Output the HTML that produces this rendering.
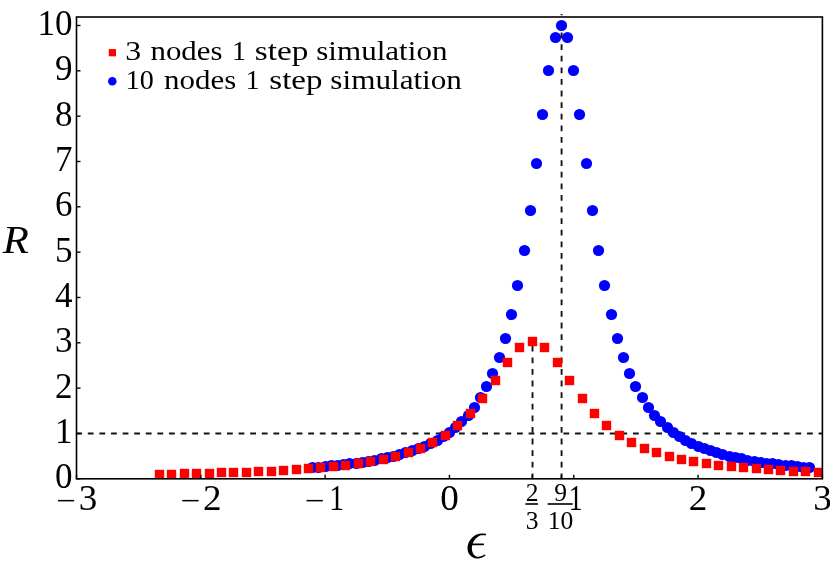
<!DOCTYPE html>
<html><head><meta charset="utf-8"><title>R vs epsilon</title>
<style>html,body{margin:0;padding:0;background:#fff;}body{width:830px;height:562px;overflow:hidden;}svg{display:block;will-change:transform;}text{font-family:"Liberation Serif",serif;fill:#000;}</style>
</head><body>
<svg width="830" height="562" viewBox="0 0 830 562">
<rect x="0" y="0" width="830" height="562" fill="#ffffff"/>
<g stroke="#141414" stroke-width="1.90" stroke-dasharray="5.8 5.8" fill="none">
<line x1="76.20" y1="433.47" x2="822.40" y2="433.47"/>
<line x1="532.53" y1="479.20" x2="532.53" y2="342.81"/>
<line x1="561.59" y1="479.20" x2="561.59" y2="14.00"/>
</g>
<g fill="#0000ff">
<circle cx="312.50" cy="467.50" r="5.60"/>
<circle cx="318.50" cy="467.50" r="5.60"/>
<circle cx="325.50" cy="466.50" r="5.60"/>
<circle cx="331.50" cy="465.50" r="5.60"/>
<circle cx="337.50" cy="465.50" r="5.60"/>
<circle cx="343.50" cy="464.50" r="5.60"/>
<circle cx="349.50" cy="463.50" r="5.60"/>
<circle cx="356.50" cy="463.50" r="5.60"/>
<circle cx="362.50" cy="462.50" r="5.60"/>
<circle cx="368.50" cy="461.50" r="5.60"/>
<circle cx="374.50" cy="460.50" r="5.60"/>
<circle cx="381.50" cy="458.50" r="5.60"/>
<circle cx="387.50" cy="457.50" r="5.60"/>
<circle cx="393.50" cy="456.50" r="5.60"/>
<circle cx="399.50" cy="454.50" r="5.60"/>
<circle cx="405.50" cy="452.50" r="5.60"/>
<circle cx="412.50" cy="450.50" r="5.60"/>
<circle cx="418.50" cy="448.50" r="5.60"/>
<circle cx="424.50" cy="446.50" r="5.60"/>
<circle cx="430.50" cy="443.50" r="5.60"/>
<circle cx="437.50" cy="440.50" r="5.60"/>
<circle cx="443.50" cy="436.50" r="5.60"/>
<circle cx="449.50" cy="432.50" r="5.60"/>
<circle cx="455.50" cy="427.50" r="5.60"/>
<circle cx="461.50" cy="421.50" r="5.60"/>
<circle cx="468.50" cy="415.50" r="5.60"/>
<circle cx="474.50" cy="407.50" r="5.60"/>
<circle cx="480.50" cy="397.50" r="5.60"/>
<circle cx="486.50" cy="386.50" r="5.60"/>
<circle cx="492.50" cy="373.50" r="5.60"/>
<circle cx="499.50" cy="357.50" r="5.60"/>
<circle cx="505.50" cy="338.50" r="5.60"/>
<circle cx="511.50" cy="314.50" r="5.60"/>
<circle cx="517.50" cy="285.50" r="5.60"/>
<circle cx="524.50" cy="250.50" r="5.60"/>
<circle cx="530.50" cy="210.50" r="5.60"/>
<circle cx="536.50" cy="163.50" r="5.60"/>
<circle cx="542.50" cy="114.50" r="5.60"/>
<circle cx="548.50" cy="70.50" r="5.60"/>
<circle cx="555.50" cy="37.50" r="5.60"/>
<circle cx="561.50" cy="25.50" r="5.60"/>
<circle cx="567.50" cy="37.50" r="5.60"/>
<circle cx="573.50" cy="70.50" r="5.60"/>
<circle cx="579.50" cy="114.50" r="5.60"/>
<circle cx="586.50" cy="163.50" r="5.60"/>
<circle cx="592.50" cy="210.50" r="5.60"/>
<circle cx="598.50" cy="250.50" r="5.60"/>
<circle cx="604.50" cy="285.50" r="5.60"/>
<circle cx="611.50" cy="314.50" r="5.60"/>
<circle cx="617.50" cy="338.50" r="5.60"/>
<circle cx="623.50" cy="357.50" r="5.60"/>
<circle cx="629.50" cy="373.50" r="5.60"/>
<circle cx="635.50" cy="386.50" r="5.60"/>
<circle cx="642.50" cy="397.50" r="5.60"/>
<circle cx="648.50" cy="407.50" r="5.60"/>
<circle cx="654.50" cy="415.50" r="5.60"/>
<circle cx="660.50" cy="421.50" r="5.60"/>
<circle cx="667.50" cy="427.50" r="5.60"/>
<circle cx="673.50" cy="432.50" r="5.60"/>
<circle cx="679.50" cy="436.50" r="5.60"/>
<circle cx="685.50" cy="440.50" r="5.60"/>
<circle cx="691.50" cy="443.50" r="5.60"/>
<circle cx="698.50" cy="446.50" r="5.60"/>
<circle cx="704.50" cy="448.50" r="5.60"/>
<circle cx="710.50" cy="450.50" r="5.60"/>
<circle cx="716.50" cy="452.50" r="5.60"/>
<circle cx="722.50" cy="454.50" r="5.60"/>
<circle cx="729.50" cy="456.50" r="5.60"/>
<circle cx="735.50" cy="457.50" r="5.60"/>
<circle cx="741.50" cy="458.50" r="5.60"/>
<circle cx="747.50" cy="460.50" r="5.60"/>
<circle cx="754.50" cy="461.50" r="5.60"/>
<circle cx="760.50" cy="462.50" r="5.60"/>
<circle cx="766.50" cy="463.50" r="5.60"/>
<circle cx="772.50" cy="463.50" r="5.60"/>
<circle cx="778.50" cy="464.50" r="5.60"/>
<circle cx="785.50" cy="465.50" r="5.60"/>
<circle cx="791.50" cy="465.50" r="5.60"/>
<circle cx="797.50" cy="466.50" r="5.60"/>
<circle cx="803.50" cy="467.50" r="5.60"/>
<circle cx="809.50" cy="467.50" r="5.60"/>
</g>
<clipPath id="c"><rect x="0" y="0" width="821.90" height="479.20"/></clipPath>
<g fill="#ff0000" clip-path="url(#c)">
<rect x="154.80" y="469.80" width="9.40" height="9.40"/>
<rect x="166.80" y="469.80" width="9.40" height="9.40"/>
<rect x="179.80" y="468.80" width="9.40" height="9.40"/>
<rect x="191.80" y="468.80" width="9.40" height="9.40"/>
<rect x="204.80" y="468.80" width="9.40" height="9.40"/>
<rect x="216.80" y="467.80" width="9.40" height="9.40"/>
<rect x="228.80" y="467.80" width="9.40" height="9.40"/>
<rect x="241.80" y="467.80" width="9.40" height="9.40"/>
<rect x="253.80" y="466.80" width="9.40" height="9.40"/>
<rect x="266.80" y="466.80" width="9.40" height="9.40"/>
<rect x="278.80" y="465.80" width="9.40" height="9.40"/>
<rect x="291.80" y="464.80" width="9.40" height="9.40"/>
<rect x="303.80" y="463.80" width="9.40" height="9.40"/>
<rect x="315.80" y="462.80" width="9.40" height="9.40"/>
<rect x="328.80" y="461.80" width="9.40" height="9.40"/>
<rect x="340.80" y="460.80" width="9.40" height="9.40"/>
<rect x="353.80" y="458.80" width="9.40" height="9.40"/>
<rect x="365.80" y="456.80" width="9.40" height="9.40"/>
<rect x="378.80" y="454.80" width="9.40" height="9.40"/>
<rect x="390.80" y="451.80" width="9.40" height="9.40"/>
<rect x="403.80" y="447.80" width="9.40" height="9.40"/>
<rect x="415.80" y="443.80" width="9.40" height="9.40"/>
<rect x="427.80" y="437.80" width="9.40" height="9.40"/>
<rect x="440.80" y="430.80" width="9.40" height="9.40"/>
<rect x="452.80" y="420.80" width="9.40" height="9.40"/>
<rect x="465.80" y="408.80" width="9.40" height="9.40"/>
<rect x="477.80" y="393.80" width="9.40" height="9.40"/>
<rect x="490.80" y="375.80" width="9.40" height="9.40"/>
<rect x="502.80" y="357.80" width="9.40" height="9.40"/>
<rect x="514.80" y="342.80" width="9.40" height="9.40"/>
<rect x="527.80" y="336.80" width="9.40" height="9.40"/>
<rect x="539.80" y="342.80" width="9.40" height="9.40"/>
<rect x="552.80" y="357.80" width="9.40" height="9.40"/>
<rect x="564.80" y="375.80" width="9.40" height="9.40"/>
<rect x="577.80" y="393.80" width="9.40" height="9.40"/>
<rect x="589.80" y="408.80" width="9.40" height="9.40"/>
<rect x="601.80" y="420.80" width="9.40" height="9.40"/>
<rect x="614.80" y="430.80" width="9.40" height="9.40"/>
<rect x="626.80" y="437.80" width="9.40" height="9.40"/>
<rect x="639.80" y="443.80" width="9.40" height="9.40"/>
<rect x="651.80" y="447.80" width="9.40" height="9.40"/>
<rect x="664.80" y="451.80" width="9.40" height="9.40"/>
<rect x="676.80" y="454.80" width="9.40" height="9.40"/>
<rect x="688.80" y="456.80" width="9.40" height="9.40"/>
<rect x="701.80" y="458.80" width="9.40" height="9.40"/>
<rect x="713.80" y="460.80" width="9.40" height="9.40"/>
<rect x="726.80" y="461.80" width="9.40" height="9.40"/>
<rect x="738.80" y="462.80" width="9.40" height="9.40"/>
<rect x="751.80" y="463.80" width="9.40" height="9.40"/>
<rect x="763.80" y="464.80" width="9.40" height="9.40"/>
<rect x="775.80" y="465.80" width="9.40" height="9.40"/>
<rect x="788.80" y="466.80" width="9.40" height="9.40"/>
<rect x="800.80" y="466.80" width="9.40" height="9.40"/>
<rect x="813.80" y="467.80" width="9.40" height="9.40"/>
</g>
<rect x="76.50" y="17.00" width="745.90" height="461.80" fill="none" stroke="#000" stroke-width="1.60"/>
<g stroke="#000" stroke-width="1.40">
<line x1="76.50" y1="478.80" x2="80.50" y2="478.80"/>
<line x1="76.50" y1="433.47" x2="80.50" y2="433.47"/>
<line x1="76.50" y1="388.14" x2="80.50" y2="388.14"/>
<line x1="76.50" y1="342.81" x2="80.50" y2="342.81"/>
<line x1="76.50" y1="297.48" x2="80.50" y2="297.48"/>
<line x1="76.50" y1="252.15" x2="80.50" y2="252.15"/>
<line x1="76.50" y1="206.82" x2="80.50" y2="206.82"/>
<line x1="76.50" y1="161.49" x2="80.50" y2="161.49"/>
<line x1="76.50" y1="116.16" x2="80.50" y2="116.16"/>
<line x1="76.50" y1="70.83" x2="80.50" y2="70.83"/>
<line x1="76.50" y1="25.50" x2="80.50" y2="25.50"/>
<line x1="76.50" y1="478.80" x2="76.50" y2="474.80"/>
<line x1="200.82" y1="478.80" x2="200.82" y2="474.80"/>
<line x1="325.13" y1="478.80" x2="325.13" y2="474.80"/>
<line x1="449.45" y1="478.80" x2="449.45" y2="474.80"/>
<line x1="532.33" y1="478.80" x2="532.33" y2="474.80"/>
<line x1="561.34" y1="478.80" x2="561.34" y2="474.80"/>
<line x1="573.77" y1="478.80" x2="573.77" y2="474.80"/>
<line x1="698.08" y1="478.80" x2="698.08" y2="474.80"/>
<line x1="822.40" y1="478.80" x2="822.40" y2="474.80"/>
</g>
<text transform="translate(72.50,488.20) scale(1.000,1)" font-size="35.00" text-anchor="end">0</text>
<text transform="translate(72.50,442.87) scale(1.000,1)" font-size="35.00" text-anchor="end">1</text>
<text transform="translate(72.50,397.54) scale(1.000,1)" font-size="35.00" text-anchor="end">2</text>
<text transform="translate(72.50,352.21) scale(1.000,1)" font-size="35.00" text-anchor="end">3</text>
<text transform="translate(72.50,306.88) scale(1.000,1)" font-size="35.00" text-anchor="end">4</text>
<text transform="translate(72.50,261.55) scale(1.000,1)" font-size="35.00" text-anchor="end">5</text>
<text transform="translate(72.50,216.22) scale(1.000,1)" font-size="35.00" text-anchor="end">6</text>
<text transform="translate(72.50,170.89) scale(1.000,1)" font-size="35.00" text-anchor="end">7</text>
<text transform="translate(72.50,125.56) scale(1.000,1)" font-size="35.00" text-anchor="end">8</text>
<text transform="translate(72.50,80.23) scale(1.000,1)" font-size="35.00" text-anchor="end">9</text>
<text transform="translate(72.50,34.90) scale(1.000,1)" font-size="35.00" text-anchor="end">10</text>
<rect x="57.90" y="499.90" width="16.30" height="1.50" fill="#000"/>
<text transform="translate(88.00,509.60) scale(1.060,1)" font-size="35.00" text-anchor="middle">3</text>
<rect x="182.22" y="499.90" width="16.30" height="1.50" fill="#000"/>
<text transform="translate(212.32,509.60) scale(1.060,1)" font-size="35.00" text-anchor="middle">2</text>
<rect x="306.53" y="499.90" width="16.30" height="1.50" fill="#000"/>
<text transform="translate(329.22,509.60) scale(0.8451,1)" font-size="35.00">1</text>
<text transform="translate(449.45,509.60) scale(1.060,1)" font-size="35.00" text-anchor="middle">0</text>
<text transform="translate(698.08,509.60) scale(1.060,1)" font-size="35.00" text-anchor="middle">2</text>
<text transform="translate(822.40,509.60) scale(1.060,1)" font-size="35.00" text-anchor="middle">3</text>
<text transform="translate(568.65,509.60) scale(0.7887,1)" font-size="35.00">1</text>
<text transform="translate(532.20,501.40) scale(1.04,1)" font-size="24.60" text-anchor="middle">2</text>
<rect x="525.40" y="503.20" width="12.60" height="1.60" fill="#000"/>
<text transform="translate(532.20,528.50) scale(1.04,1)" font-size="24.60" text-anchor="middle">3</text>
<text transform="translate(560.60,501.40) scale(1.04,1)" font-size="24.60" text-anchor="middle">9</text>
<rect x="547.60" y="503.20" width="25.10" height="1.60" fill="#000"/>
<text transform="translate(560.60,528.50) scale(1.04,1)" font-size="24.60" text-anchor="middle">10</text>
<text transform="translate(2.70,253.10) scale(1.078,1)" font-size="39.60" font-style="italic">R</text>
<path d="M486.03 533.72 C485.22 533.69 482.60 533.43 481.17 533.54 C479.74 533.64 478.68 533.88 477.43 534.35 C476.19 534.81 474.84 535.49 473.70 536.34 C472.56 537.19 471.47 538.31 470.59 539.45 C469.70 540.59 468.92 541.84 468.41 543.19 C467.89 544.54 467.52 546.10 467.47 547.55 C467.42 549.00 467.68 550.66 468.09 551.91 C468.51 553.15 469.13 554.08 469.96 555.02 C470.79 555.96 471.93 556.98 473.08 557.57 C474.22 558.16 475.57 558.50 476.81 558.57 C478.06 558.64 479.41 558.33 480.55 558.01 C481.69 557.69 482.82 557.07 483.66 556.64 C484.50 556.20 485.27 555.60 485.59 555.39 L484.84 554.58 C484.28 554.83 482.56 555.72 481.48 556.08 C480.40 556.44 479.33 556.75 478.37 556.76 C477.40 556.77 476.49 556.56 475.69 556.14 C474.89 555.73 474.13 555.03 473.57 554.27 C473.01 553.52 472.62 552.61 472.33 551.60 C472.04 550.58 471.84 549.24 471.83 548.17 C471.82 547.10 472.19 545.68 472.27 545.18 L483.66 545.18 Q484.46 544.31 483.66 543.50 L472.76 543.50 C472.94 543.14 473.33 542.14 473.82 541.32 C474.32 540.50 474.99 539.40 475.75 538.58 C476.52 537.76 477.53 536.94 478.43 536.40 C479.33 535.86 479.90 535.55 481.17 535.34 C482.44 535.14 485.22 535.19 486.03 535.16 Z" fill="#000"/>
<rect x="108.80" y="49.10" width="7.2" height="7.2" fill="#ff0000"/>
<circle cx="112.3" cy="81.2" r="4.25" fill="#0000ff"/>
<text transform="translate(125.20,60.20) scale(1.1290,1)" font-size="28.30">3</text>
<text transform="translate(150.48,60.20) scale(1.0919,1)" font-size="28.30">nodes</text>
<text transform="translate(231.91,60.20) scale(0.9954,1)" font-size="28.30">1</text>
<text transform="translate(254.87,60.20) scale(1.1763,1)" font-size="28.30">step</text>
<text transform="translate(316.26,60.20) scale(1.0982,1)" font-size="28.30">simulation</text>
<text transform="translate(125.81,89.10) scale(0.9934,1)" font-size="28.30">10</text>
<text transform="translate(164.08,89.10) scale(1.0935,1)" font-size="28.30">nodes</text>
<text transform="translate(245.65,89.10) scale(0.9755,1)" font-size="28.30">1</text>
<text transform="translate(269.28,89.10) scale(1.1671,1)" font-size="28.30">step</text>
<text transform="translate(330.35,89.10) scale(1.1016,1)" font-size="28.30">simulation</text>
</svg>
</body></html>
